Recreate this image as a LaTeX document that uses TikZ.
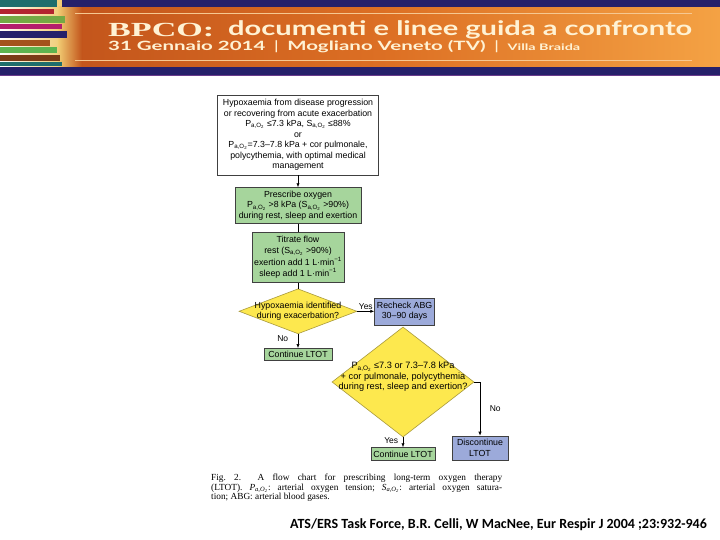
\documentclass[tikz,border=0pt]{standalone}
\usepackage{fontspec}
\setmainfont{Liberation Sans}
\newfontfamily\capfont{Liberation Serif}
\newfontfamily\headfont{Lato}
\newfontfamily\citefont{Carlito}
\usepackage{graphicx}
\usetikzlibrary{arrows.meta,positioning,shapes.geometric}

\definecolor{navyband}{HTML}{25206A}
\definecolor{orangeL}{HTML}{C2541B}
\definecolor{orangeM}{HTML}{DD7024}
\definecolor{orangeR}{HTML}{F4A244}
\definecolor{goldglow}{HTML}{F1CB72}
\definecolor{cream}{HTML}{FFF2D4}
\definecolor{ruleline}{HTML}{F6C891}
\definecolor{purpleline}{HTML}{6A3B8C}
\definecolor{stripeteal}{HTML}{1F6E6C}
\definecolor{stripered}{HTML}{B32430}
\definecolor{stripegreen}{HTML}{74A944}
\definecolor{stripemagenta}{HTML}{B41D6C}
\definecolor{stripebrown}{HTML}{A4531C}
\definecolor{stripelime}{HTML}{5DB44F}
\definecolor{stripedark}{HTML}{7A3B16}
\definecolor{boxgreen}{HTML}{A6D59C}
\definecolor{boxblue}{HTML}{9CAADA}
\definecolor{diamondyellow}{HTML}{FDE84E}
\definecolor{diamondline}{HTML}{A99A3C}

\newcommand{\pao}{P\textsubscript{a,O\textsubscript{2}}}
\newcommand{\sao}{S\textsubscript{a,O\textsubscript{2}}}

\begin{document}
\begin{tikzpicture}[x=1pt,y=-1pt,
		node distance=10pt and 17pt,
		flowtext/.style={font=\fontsize{8.8}{10.5}\selectfont, align=center, inner sep=1pt},
		box/.style={flowtext, draw=black!75, line width=0.6pt, fill=white},
		greenbox/.style={box, fill=boxgreen},
		bluebox/.style={box, fill=boxblue},
		decision/.style={diamond, draw=diamondline, line width=0.6pt, fill=diamondyellow, inner sep=0pt},
		arrow/.style={-{Latex[length=4pt,width=3.2pt]}, line width=0.6pt},
		link/.style={line width=0.6pt},
		branch/.style={font=\fontsize{8.5}{9}\selectfont, inner sep=1.5pt}
	]
		\useasboundingbox (0,0) rectangle (720,540);
		\fill[white] (0,0) rectangle (720,540);
		\shade[left color=white, right color=goldglow] (0,0) rectangle (62,67);
		\shade[left color=orangeL, right color=orangeR, middle color=orangeM] (62,7) rectangle (720,67);
		\shade[left color=goldglow, right color=orangeL] (58,7) rectangle (82,67);
		\foreach \ya/\yb/\xe/\col in {0.5/7/57/stripeteal, 9/14.5/54/stripered, 16/23/65/stripegreen, 24.5/29.5/62/stripemagenta, 31.5/38/67/navyband, 40/46/50/stripebrown, 47.5/53.5/57/stripelime, 55.5/61.5/60/stripedark, 62/66.5/62/stripeteal}
			\fill[\col] (0,\ya) rectangle (\xe,\yb);
		\fill[navyband] (62,0) rectangle (720,7);
		\fill[navyband] (0,67) rectangle (720,75);
		\fill[purpleline] (0,75) rectangle (720,76.5);
		\draw[ruleline, line width=0.8pt] (75,13) -- (692,13);
		\draw[ruleline, line width=0.8pt] (75,60) -- (692,60);
		\node[anchor=base west, inner sep=0pt, text=cream] (bpco) at (108,37) {\resizebox{106pt}{\height}{\capfont\bfseries\fontsize{20}{20}\selectfont BPCO:}};
		\node[anchor=base west, inner sep=0pt, text=cream] (headline) at (228,36) {\resizebox{464pt}{\height}{\headfont\bfseries\fontsize{20}{20}\selectfont documenti e linee guida a confronto}};
		\node[anchor=base west, inner sep=0pt, text=cream] (dateline) at (108,51) {\resizebox{472pt}{\height}{\headfont\bfseries\fontsize{12.8}{13}\selectfont 31 Gennaio 2014 \,{\mdseries|}\, Mogliano Veneto (TV) \,{\mdseries|}\, {\fontsize{9}{10}\selectfont Villa Braida}}};

		\node[box, minimum width=161pt, minimum height=80pt] (onset) at (298,135) {Hypoxaemia from disease progression\\or recovering from acute exacerbation\\\pao{} ≤7.3 kPa, \sao{} ≤88\%\\or\\\pao{}=7.3–7.8 kPa + cor pulmonale,\\polycythemia, with optimal medical\\management};
		\node[greenbox, minimum width=126pt, minimum height=36pt, below=12pt of onset] (prescribe) {Prescribe oxygen\\\pao{} >8 kPa (\sao{} >90\%)\\during rest, sleep and exertion};
		\node[greenbox, minimum width=92pt, minimum height=50pt, below=8pt of prescribe, font=\fontsize{8.8}{11.5}\selectfont] (titrate) {Titrate flow\\rest (\sao{} >90\%)\\exertion add 1 L·min\textsuperscript{−1}\\sleep add 1 L·min\textsuperscript{−1}};
		\node[decision, minimum width=118pt, minimum height=45pt, below=6pt of titrate, label={[flowtext]center:Hypoxaemia identified\\during exacerbation?}] (exacerb) {};
		\node[bluebox, minimum width=60pt, minimum height=27pt, right=17pt of exacerb] (recheck) {Recheck ABG\\30–90 days};
		\node[greenbox, minimum width=68pt, minimum height=12pt, inner sep=0.5pt, below=14pt of exacerb] (continueA) {Continue LTOT};
		\node[decision, minimum width=142pt, minimum height=110pt, label={[flowtext, font=\fontsize{9.2}{10.5}\selectfont, yshift=5pt]center:\pao{} ≤7.3 or 7.3–7.8 kPa\\+ cor pulmonale, polycythemia\\during rest, sleep and exertion?}] (criteria) at (403,382) {};
		\node[greenbox, minimum width=64pt, minimum height=13pt, inner sep=0.5pt, below=10pt of criteria] (continueB) {Continue LTOT};
		\node[bluebox, minimum width=56pt, minimum height=24pt] (discontinue) at (480,448) {Discontinue\\LTOT};

		\draw[arrow] (onset) -- (prescribe);
		\draw[link] (prescribe) -- (titrate);
		\draw[link] (titrate) -- (exacerb);
		\draw[arrow] (exacerb) -- node[branch, above]{Yes} (recheck);
		\draw[arrow] (exacerb) -- node[branch, left, pos=0.35, xshift=-8pt]{No} (continueA);
		\draw[arrow] (criteria) -- node[branch, left, pos=0.3, xshift=-3pt]{Yes} (continueB);
		\draw[arrow] (criteria.east) -| node[branch, right, pos=0.75, xshift=8pt]{No} (discontinue);

		\node[anchor=north west, inner sep=0pt, text width=291pt, align=justify, font=\capfont\fontsize{9.3}{8.3}\selectfont\frenchspacing] (caption) at (211,474) {Fig. 2.\ \ A flow chart for prescribing long-term oxygen therapy\linebreak (LTOT). \textit{\pao}: arterial oxygen tension; \textit{\sao}: arterial oxygen satura-\linebreak tion; ABG: arterial blood gases.};
		\node[anchor=base west, inner sep=0pt, font=\citefont\bfseries\fontsize{14}{16}\selectfont] (source) at (290,528) {ATS/ERS Task Force, B.R. Celli, W MacNee, Eur Respir J 2004 ;23:932-946};
	\end{tikzpicture}
\end{document}
